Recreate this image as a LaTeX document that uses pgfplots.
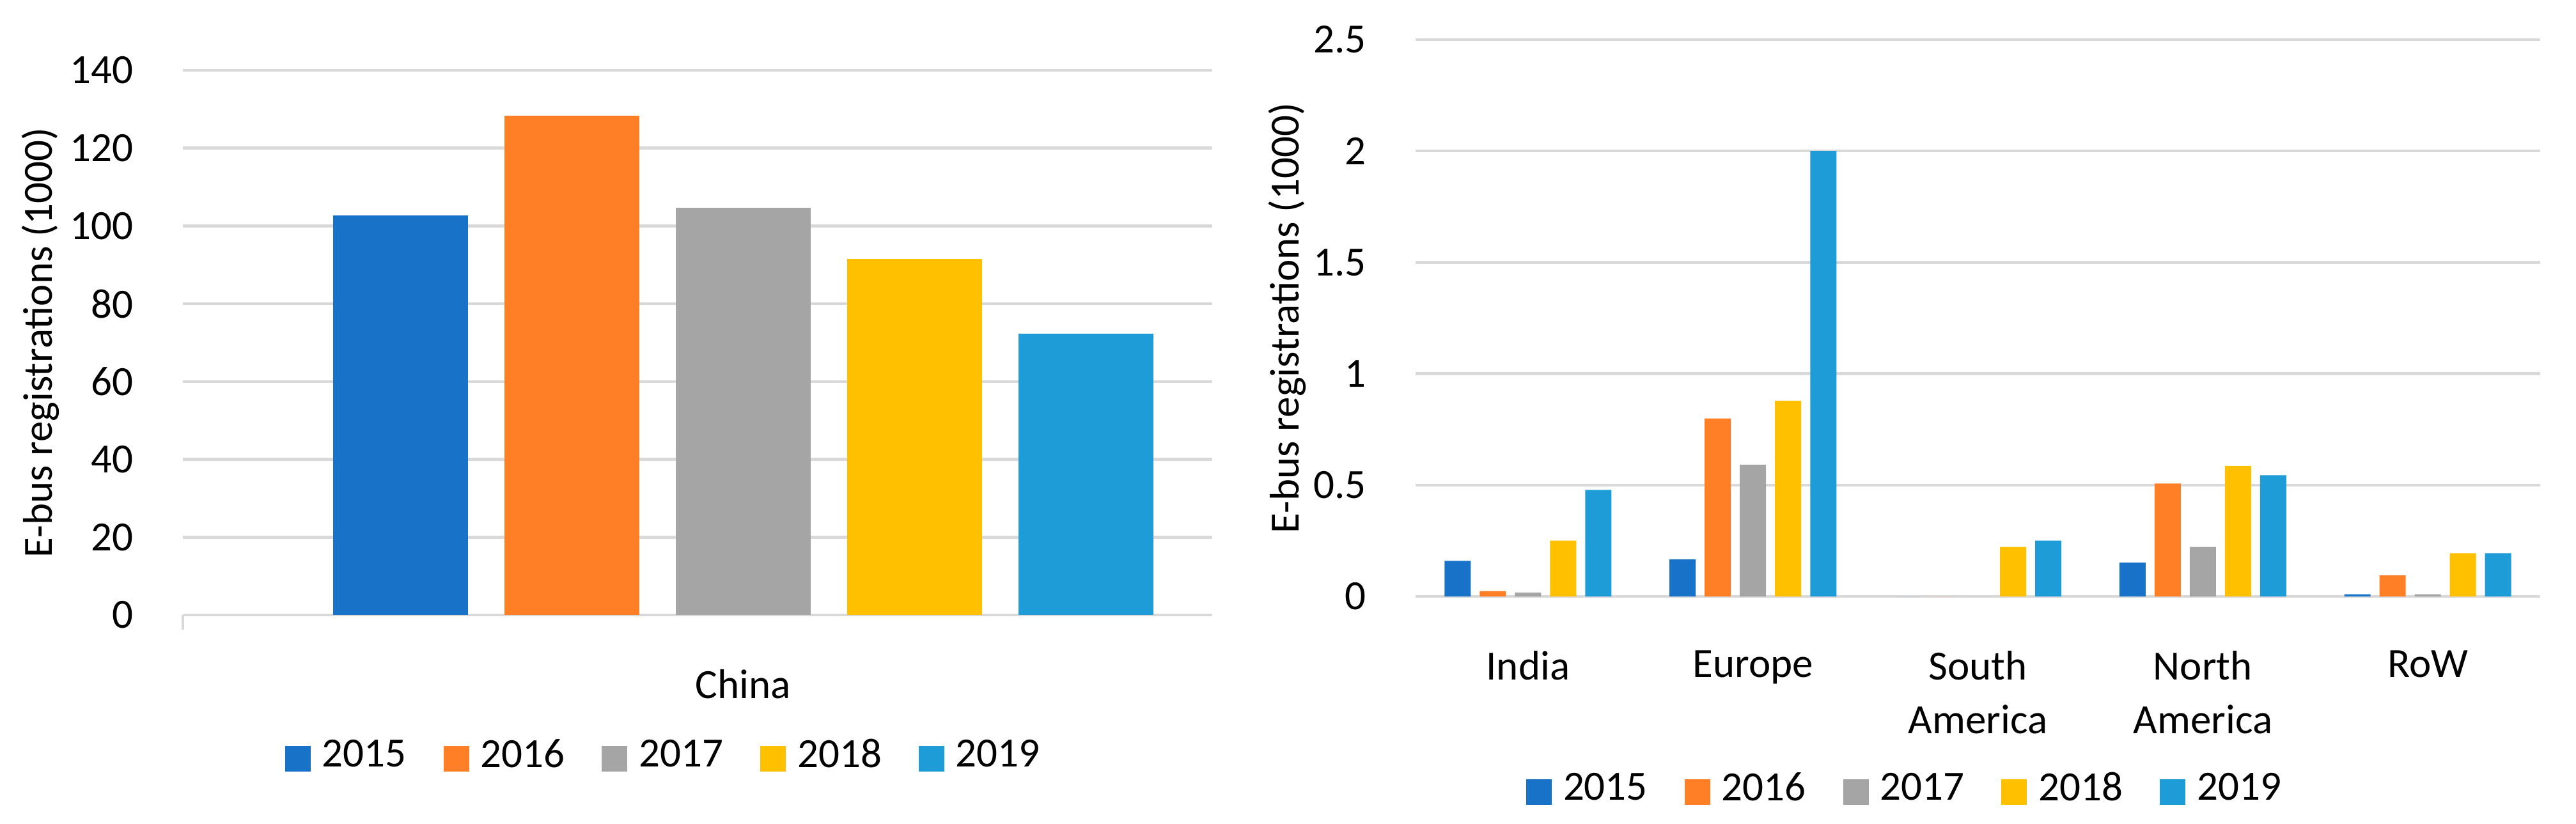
\documentclass[border=0pt]{standalone}
\usepackage{fontspec}
\setmainfont{Carlito}
\usepackage{pgfplots}
\pgfplotsset{compat=1.18}
\definecolor{c15}{RGB}{24,114,200}
\definecolor{c16}{RGB}{255,127,39}
\definecolor{c17}{RGB}{165,165,165}
\definecolor{c18}{RGB}{255,192,0}
\definecolor{c19}{RGB}{30,156,216}
\definecolor{gridgray}{RGB}{217,217,217}
\newcommand{\cf}{\fontsize{6.5}{8.4}\selectfont}
\pgfplotsset{
  my legend/.style={legend image code/.code={\fill[##1] (0pt,-2.1pt) rectangle (4pt,1.9pt);}},
  mystyle/.style={
    scale only axis,
    ymin=0,
    axis x line*=bottom, axis y line*=left,
    x axis line style={draw=gridgray,line width=0.45pt,-},
    y axis line style={draw=none},
    ymajorgrids, grid style={gridgray, line width=0.45pt},
    xtick style={draw=none}, ytick style={draw=none},
    font=\cf,
    tick label style={font=\cf},
    /pgf/number format/assume math mode=true,
    legend columns=5,
    legend style={draw=none, fill=none, font=\cf, inner sep=0pt,
      nodes={inner sep=0pt},
      /tikz/every odd column/.append style={column sep=1.8pt},
      /tikz/every even column/.append style={column sep=5.8pt}},
    every axis plot post/.append style={my legend},
  }
}
\begin{document}
\begin{tikzpicture}
\path[use as bounding box] (0,0) rectangle (402.9pt,128.8pt);
% Left: China
\begin{axis}[mystyle,
  at={(28.6pt,32.6pt)}, anchor=south west,
  width=161pt, height=85.2pt,
  ymax=140, ytick={0,20,...,140},
  xmin=-876, xmax=734,
  xtick={0}, xticklabels={China},
  extra x ticks={-876}, extra x tick labels={},
  extra x tick style={xtick style={draw=gridgray,line width=0.45pt}, tick align=outside, major tick length=2.3pt},
  ybar=5.7pt, bar width=21.1pt,
  every y tick label/.append style={anchor=east, xshift=-4.2pt},
  every x tick label/.append style={yshift=-0.7pt, align=center},
  ylabel={E-bus registrations (1000)},
  ylabel style={at={([xshift=-22.3pt]axis description cs:0,0.5)}, anchor=center},
  legend style={at={(0.466,-0.263)}, anchor=center},
]
\addplot[fill=c15,draw=none] coordinates {(0,102.7)};
\addplot[fill=c16,draw=none] coordinates {(0,128.4)};
\addplot[fill=c17,draw=none] coordinates {(0,104.6)};
\addplot[fill=c18,draw=none] coordinates {(0,91.5)};
\addplot[fill=c19,draw=none] coordinates {(0,72.3)};
\legend{2015,2016,2017,2018,2019}
\end{axis}
% Right: other regions
\begin{axis}[mystyle,
  at={(221.4pt,35.5pt)}, anchor=south west,
  width=175.9pt, height=87.1pt,
  ymax=2.5, ytick={0,0.5,1,1.5,2,2.5},
  xmin=-0.5, xmax=4.5,
  xtick={0,1,2,3,4},
  xticklabels={India,Europe,{South\\America},{North\\America},RoW},
  ybar=1.4pt, bar width=4.1pt,
  every y tick label/.append style={anchor=east, xshift=-4.2pt},
  every x tick label/.append style={yshift=-0.7pt, align=center},
  ylabel={E-bus registrations (1000)},
  ylabel style={at={([xshift=-20.1pt]axis description cs:0,0.5)}, anchor=center},
  legend style={at={(0.434,-0.350)}, anchor=center},
]
\addplot[fill=c15,draw=none] coordinates {(0,0.16) (1,0.166) (2,0) (3,0.152) (4,0.01)};
\addplot[fill=c16,draw=none] coordinates {(0,0.024) (1,0.799) (2,0) (3,0.507) (4,0.095)};
\addplot[fill=c17,draw=none] coordinates {(0,0.018) (1,0.592) (2,0) (3,0.2225) (4,0.01)};
\addplot[fill=c18,draw=none] coordinates {(0,0.251) (1,0.879) (2,0.2225) (3,0.586) (4,0.194)};
\addplot[fill=c19,draw=none] coordinates {(0,0.478) (1,2.0) (2,0.251) (3,0.544) (4,0.194)};
\legend{2015,2016,2017,2018,2019}
\end{axis}
\end{tikzpicture}
\end{document}
